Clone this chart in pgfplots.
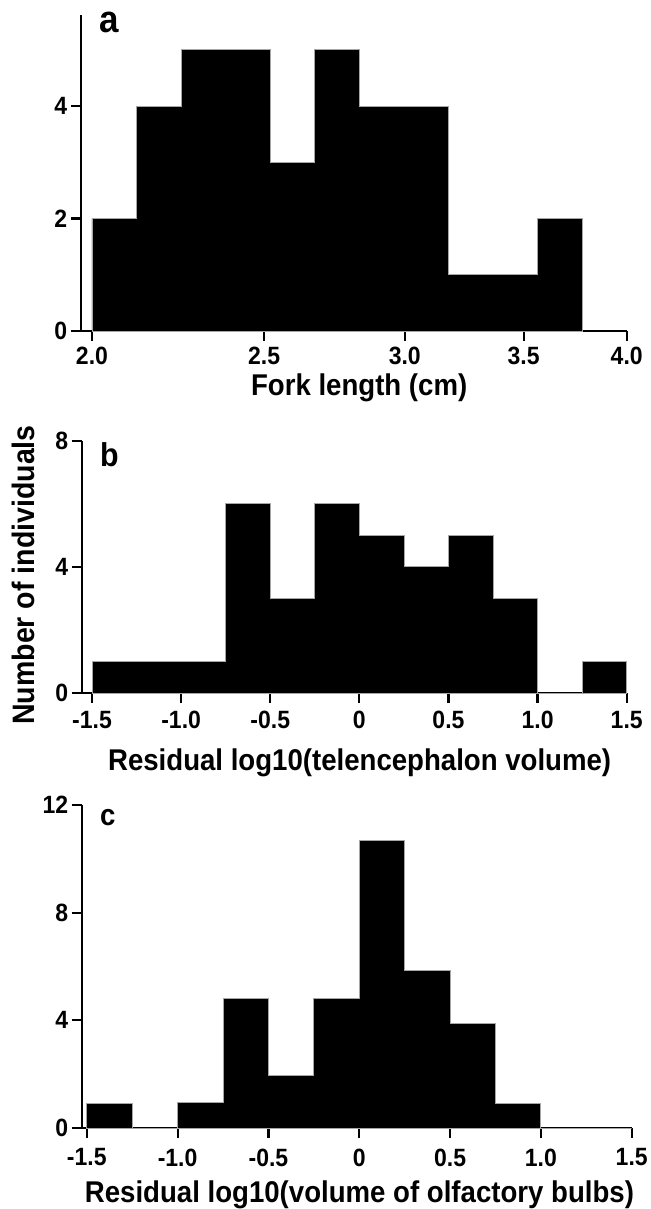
\documentclass[border=0pt]{standalone}
\usepackage{fontspec}
\setmainfont[FakeStretch=0.92]{Liberation Sans}
\usepackage{pgfplots}
\pgfplotsset{compat=1.18}

\pgfplotsset{
  hist/.style={
    scale only axis,
    axis lines=left,
    axis line style={-, line width=2.2pt, black},
    major tick style={line width=2.2pt, black},
    tick align=outside,
    major tick length=10pt,
    minor tick num=0,
    clip=false,
    /pgf/number format/assume math mode=true,
    xticklabel style={font=\fontsize{25}{25}\selectfont\bfseries},
    yticklabel style={font=\fontsize{25}{25}\selectfont\bfseries},
    label style={font=\fontsize{30}{30}\selectfont\bfseries},
    ymin=0,
  },
  bars/.style={const plot, fill=black, draw=gray!70, line width=0.8pt},
}

\begin{document}
\begin{tikzpicture}
\path[use as bounding box] (0,0) rectangle (650pt,-1209pt);

% (a) fork length, log-spaced bins
\begin{axis}[hist,
  at={(80.7pt,-331pt)}, anchor=south west,
  width=546pt, height=316pt,
  xmode=log, xmin=1.971, xmax=4.0, xminorticks=false,
  xtick={2,2.5,3,3.5,4}, xticklabels={2.0,2.5,3.0,3.5,4.0},
  xticklabel style={yshift=-3pt},
  ymax=5.62, ytick={0,2,4},
  xlabel={Fork length (cm)},
  xlabel style={at={(axis description cs:0.51,0)}, anchor=base, yshift=-64pt},
]
\addplot[bars] coordinates {
  (2.0,2) (2.1189,4) (2.2449,5) (2.3784,5) (2.5198,3) (2.6697,5)
  (2.8284,4) (2.9966,4) (3.1748,1) (3.3636,1) (3.5636,2) (3.7755,2)
} \closedcycle;
\node[anchor=base west, font=\fontsize{38}{38}\selectfont\bfseries, xshift=15pt, yshift=-17pt]
  at (rel axis cs:0,1) {a};
\end{axis}

% (b) telencephalon
\begin{axis}[hist,
  at={(81.7pt,-693pt)}, anchor=south west,
  width=545pt, height=252.3pt,
  xmin=-1.558, xmax=1.5,
  xtick={-1.5,-1,-0.5,0,0.5,1,1.5},
  xticklabels={-1.5,-1.0,-0.5,0,0.5,1.0,1.5},
  xticklabel style={yshift=-5pt},
  ymax=8, ytick={0,4,8},
  xlabel={Residual log10(telencephalon volume)},
  xlabel style={at={(axis description cs:0.51,0)}, anchor=base, yshift=-77pt},
  ylabel={Number of individuals},
  ylabel style={at={(axis description cs:-0.1077,0.4677)}, anchor=center,
    font=\fontsize{31}{31}\selectfont\bfseries},
]
\addplot[bars] coordinates {
  (-1.5,1) (-1.25,1) (-1.0,1) (-0.75,6) (-0.5,3) (-0.25,6) (0,5)
  (0.25,4) (0.5,5) (0.75,3) (1.0,0) (1.25,1) (1.5,1)
} \closedcycle;
\node[anchor=base west, font=\fontsize{33}{33}\selectfont\bfseries, xshift=15pt, yshift=-26pt]
  at (rel axis cs:0,1) {b};
\end{axis}

% (c) olfactory bulbs
\begin{axis}[hist,
  at={(81.7pt,-1128pt)}, anchor=south west,
  width=550pt, height=323pt,
  xmin=-1.528, xmax=1.5,
  xtick={-1.5,-1,-0.5,0,0.5,1,1.5},
  xticklabels={-1.5,-1.0,-0.5,0,0.5,1.0,1.5},
  xticklabel style={yshift=-7pt},
  ymax=12, ytick={0,4,8,12},
  xlabel={Residual log10(volume of olfactory bulbs)},
  xlabel style={at={(axis description cs:0.505,0)}, anchor=base, yshift=-74pt},
]
\addplot[bars] coordinates {
  (-1.5,0.92) (-1.25,0) (-1.0,0.95) (-0.75,4.8) (-0.5,1.95) (-0.25,4.8)
  (0,10.7) (0.25,5.85) (0.5,3.9) (0.75,0.9) (1.0,0) (1.25,0) (1.5,0)
} \closedcycle;
\node[anchor=base west, font=\fontsize{30}{30}\selectfont\bfseries, xshift=15pt, yshift=-20pt]
  at (rel axis cs:0,1) {c};
\end{axis}
\end{tikzpicture}
\end{document}
